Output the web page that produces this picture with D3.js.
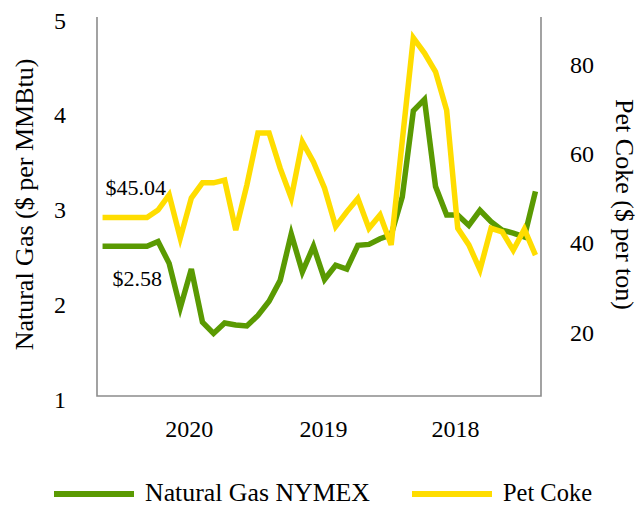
<!DOCTYPE html>
<html>
<head>
<meta charset="utf-8">
<script src="https://cdn.jsdelivr.net/npm/d3@7"></script>
<style>
  body { margin: 0; background: #fff; }
  svg { display: block; font-family: "Liberation Serif", "Times New Roman", serif; }
  text { fill: #000; }
</style>
</head>
<body>
<svg id="chart" width="642" height="506"></svg>
<script>
// Monthly prices, newest month first (left) to oldest (right)
var natGas = [2.58, 2.58, 2.58, 2.58, 2.58, 2.63, 2.40, 1.93, 2.34, 1.78,
              1.66, 1.77, 1.75, 1.74, 1.85, 2.00, 2.22, 2.71, 2.31, 2.58,
              2.23, 2.38, 2.34, 2.59, 2.60, 2.66, 2.70, 3.10, 4.01, 4.13,
              3.21, 2.91, 2.91, 2.80, 2.96, 2.84, 2.75, 2.72, 2.68, 3.16];
var petCoke = [45.04, 45.04, 45.04, 45.04, 45.04, 46.7, 50.1, 40.4, 49.4, 52.8,
               52.8, 53.4, 42.2, 52.3, 64.0, 64.0, 56.1, 49.4, 62.0, 57.5,
               51.6, 43.0, 46.3, 49.3, 42.6, 45.6, 38.9, 62.2, 85.3, 81.9,
               77.7, 69.1, 42.6, 38.9, 33.3, 42.6, 41.8, 37.7, 42.4, 36.6];
// Year labels and the (fractional) month index they sit under
var yearLabels = ["2020", "2019", "2018"];
var yearPos = [7.8, 19.9, 31.8];
var gasTicks = [1, 2, 3, 4, 5];
var cokeTicks = [20, 40, 60, 80];
var seriesNames = ["Natural Gas NYMEX", "Pet Coke"];

const green = "#5a9a02";
const yellow = "#ffdd00";
const axisGray = "#8c8c8c";

function draw() {
	let svg = d3.select("#chart");

	// plot area
	const left = 97, right = 541, top = 17, bottom = 396;

	let x = d3.scaleLinear()
	    .domain([-0.5, natGas.length - 0.5])
	    .range([left, right]);
	let yGas = d3.scaleLinear().domain([1, 5]).range([bottom, top]);
	let yCoke = d3.scaleLinear().domain([5, 90]).range([bottom, top]);

	// axis frame (left, bottom, right)
	svg.append("path")
	    .attr("d", `M${left},${top}V${bottom}H${right}V${top}`)
	    .attr("fill", "none")
	    .attr("stroke", axisGray)
	    .attr("stroke-width", 1.6);

	// left ticks
	svg.append("g").selectAll("text")
	    .data(gasTicks)
	    .join("text")
	    .attr("x", 66)
	    .attr("y", d => yGas(d) + 11.5)
	    .attr("text-anchor", "end")
	    .attr("font-size", 24)
	    .text(d => d);

	// right ticks
	svg.append("g").selectAll("text")
	    .data(cokeTicks)
	    .join("text")
	    .attr("x", 570)
	    .attr("y", d => yCoke(d) + 11.5)
	    .attr("font-size", 24)
	    .text(d => d);

	// year labels
	svg.append("g").selectAll("text")
	    .data(yearLabels)
	    .join("text")
	    .attr("x", (d, i) => x(yearPos[i]))
	    .attr("y", 437)
	    .attr("text-anchor", "middle")
	    .attr("font-size", 24)
	    .text(d => d);

	// axis titles
	svg.append("text")
	    .attr("transform", `translate(33, ${(top + bottom) / 2 - 2}) rotate(-90)`)
	    .attr("text-anchor", "middle")
	    .attr("font-size", 26)
	    .text("Natural Gas ($ per MMBtu)");
	svg.append("text")
	    .attr("transform", `translate(616, ${(top + bottom) / 2 - 2}) rotate(90)`)
	    .attr("text-anchor", "middle")
	    .attr("font-size", 26)
	    .text("Pet Coke ($ per ton)");

	// lines
	let lineGas = d3.line()
	    .x((d, i) => x(i))
	    .y(d => yGas(d));
	let lineCoke = d3.line()
	    .x((d, i) => x(i))
	    .y(d => yCoke(d));

	svg.append("path")
	    .datum(natGas)
	    .attr("d", lineGas)
	    .attr("fill", "none")
	    .attr("stroke", green)
	    .attr("stroke-width", 5.5)
	    .attr("stroke-linejoin", "miter");
	svg.append("path")
	    .datum(petCoke)
	    .attr("d", lineCoke)
	    .attr("fill", "none")
	    .attr("stroke", yellow)
	    .attr("stroke-width", 5.5)
	    .attr("stroke-linejoin", "miter");

	// value callouts on the first month
	svg.append("text")
	    .attr("x", x(0) + 3)
	    .attr("y", yCoke(petCoke[0]) - 22)
	    .attr("font-size", 22)
	    .text("$" + petCoke[0].toFixed(2));
	svg.append("text")
	    .attr("x", x(0) + 10)
	    .attr("y", yGas(natGas[0]) + 40)
	    .attr("font-size", 22)
	    .text("$" + natGas[0].toFixed(2));

	// legend
	const legendX = [54, 412];
	const colors = [green, yellow];
	let leg = svg.append("g").selectAll("g")
	    .data(seriesNames)
	    .join("g")
	    .attr("transform", (d, i) => `translate(${legendX[i]}, 494)`);
	leg.append("line")
	    .attr("x1", 0).attr("x2", 80)
	    .attr("stroke", (d, i) => colors[i])
	    .attr("stroke-width", 6);
	leg.append("text")
	    .attr("x", 91)
	    .attr("y", 6.5)
	    .attr("font-size", 25.5)
	    .attr("textLength", (d, i) => i ? 89 : 225)
	    .attr("lengthAdjust", "spacingAndGlyphs")
	    .text(d => d);
}

draw();
</script>
</body>
</html>
